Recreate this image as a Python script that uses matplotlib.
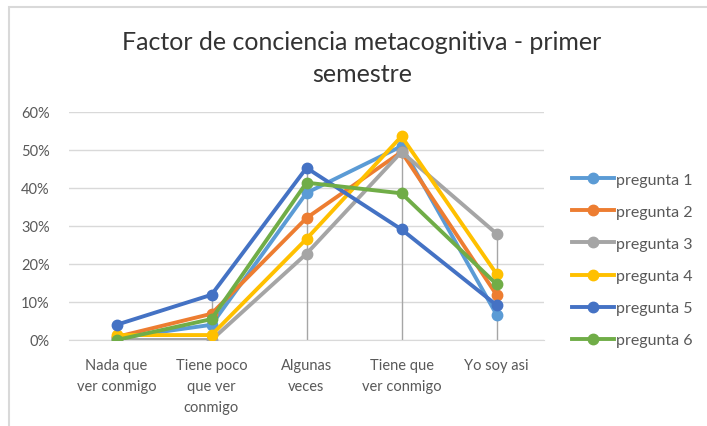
import numpy as np
import matplotlib.pyplot as plt
from matplotlib.patches import Rectangle
from matplotlib.ticker import PercentFormatter

plt.rcParams['font.family'] = ['Lato', 'DejaVu Sans']

categorias = ['Nada que\nver conmigo', 'Tiene poco\nque ver\nconmigo', 'Algunas\nveces',
              'Tiene que\nver conmigo', 'Yo soy asi']
series = ['pregunta 1', 'pregunta 2', 'pregunta 3', 'pregunta 4', 'pregunta 5', 'pregunta 6']
p1 = [0.5, 4.0, 38.7, 51.0, 6.7]
p2 = [0.8, 6.9, 32.1, 49.5, 11.9]
p3 = [0.0, 0.0, 22.7, 49.5, 28.0]
p4 = [1.3, 1.3, 26.6, 53.6, 17.4]
p5 = [4.0, 11.9, 45.3, 29.1, 9.2]
p6 = [0.0, 5.5, 41.4, 38.6, 14.7]
valores = [p1, p2, p3, p4, p5, p6]
colores = ['#5B9BD5', '#ED7D31', '#A5A5A5', '#FFC000', '#4472C4', '#70AD47']
yticks = [0, 10, 20, 30, 40, 50, 60]

fig = plt.figure(figsize=(7.07, 4.27), dpi=100)
ax = fig.add_axes([69/707, 1 - 341/427, 475/707, 228/427])

x = np.arange(len(categorias))
# lineas de caida (drop lines) desde el maximo hasta el eje
ax.vlines(x, 0, np.max(valores, axis=0), color='#A6A6A6', lw=1, zorder=1)

for v, nom, c in zip(valores, series, colores):
    ax.plot(x, v, '-o', color=c, lw=2.8, ms=7.5, label=nom, zorder=3)

ax.set_xlim(-0.5, len(categorias) - 0.5)
ax.set_ylim(0, 60)
ax.set_yticks(yticks)
ax.yaxis.set_major_formatter(PercentFormatter(decimals=0))
ax.set_xticks(x)
ax.set_xticklabels(categorias, linespacing=1.62)
ax.grid(axis='y', color='#D9D9D9', lw=1)
ax.set_axisbelow(True)
for s in ['top', 'right', 'left']:
    ax.spines[s].set_visible(False)
ax.spines['bottom'].set_color('#D9D9D9')
ax.tick_params(length=0, labelsize=10.5, labelcolor='#595959')
ax.tick_params(axis='y', pad=14)
ax.tick_params(axis='x', pad=13)

fig.text(362/707, 1 - 58.5/427, 'Factor de conciencia metacognitiva - primer\nsemestre',
         ha='center', va='center', fontsize=18, color='#333333', linespacing=1.45)

fig.legend(loc='center left', bbox_to_anchor=(558/707, 1 - 261/427), frameon=False,
           fontsize=11.5, labelcolor='#595959', handlelength=2.6, handletextpad=0.1,
           labelspacing=1.12)

fig.patches.append(Rectangle((9/707, -0.1), 1.1, 1.1 - 7.5/427, transform=fig.transFigure,
                             fill=False, edgecolor='#D9D9D9', lw=1.5))

plt.savefig('out.png', dpi=100)
